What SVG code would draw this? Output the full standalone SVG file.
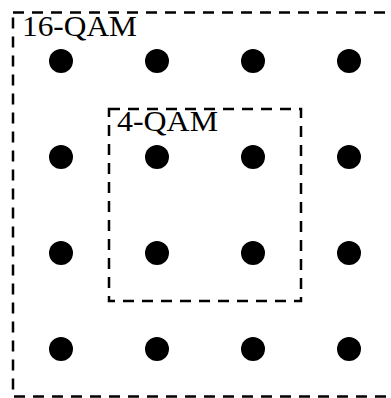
<svg xmlns="http://www.w3.org/2000/svg" width="391" height="398" viewBox="0 0 391 398">
<style>
.box{fill:none;stroke:#000;stroke-width:2.5;stroke-dasharray:11 8}
.dot{fill:#000}
.lbl{font-family:"Liberation Serif","DejaVu Serif",serif;font-size:30px;fill:#000}
</style>
<rect width="391" height="398" fill="#fff"/>
<g id="qam16">
<rect class="box" x="13" y="12.5" width="384" height="384"/>
<text class="lbl" x="22" y="36" textLength="115" lengthAdjust="spacingAndGlyphs">16-QAM</text>
</g>
<g id="qam4">
<rect class="box" x="109" y="109" width="192" height="192"/>
<text class="lbl" x="117" y="131" textLength="101" lengthAdjust="spacingAndGlyphs">4-QAM</text>
</g>
<g id="points">
<circle class="dot" cx="61" cy="61" r="12"/><circle class="dot" cx="157" cy="61" r="12"/><circle class="dot" cx="253" cy="61" r="12"/><circle class="dot" cx="349" cy="61" r="12"/>
<circle class="dot" cx="61" cy="157" r="12"/><circle class="dot" cx="157" cy="157" r="12"/><circle class="dot" cx="253" cy="157" r="12"/><circle class="dot" cx="349" cy="157" r="12"/>
<circle class="dot" cx="61" cy="253" r="12"/><circle class="dot" cx="157" cy="253" r="12"/><circle class="dot" cx="253" cy="253" r="12"/><circle class="dot" cx="349" cy="253" r="12"/>
<circle class="dot" cx="61" cy="349" r="12"/><circle class="dot" cx="157" cy="349" r="12"/><circle class="dot" cx="253" cy="349" r="12"/><circle class="dot" cx="349" cy="349" r="12"/>
</g>
</svg>
